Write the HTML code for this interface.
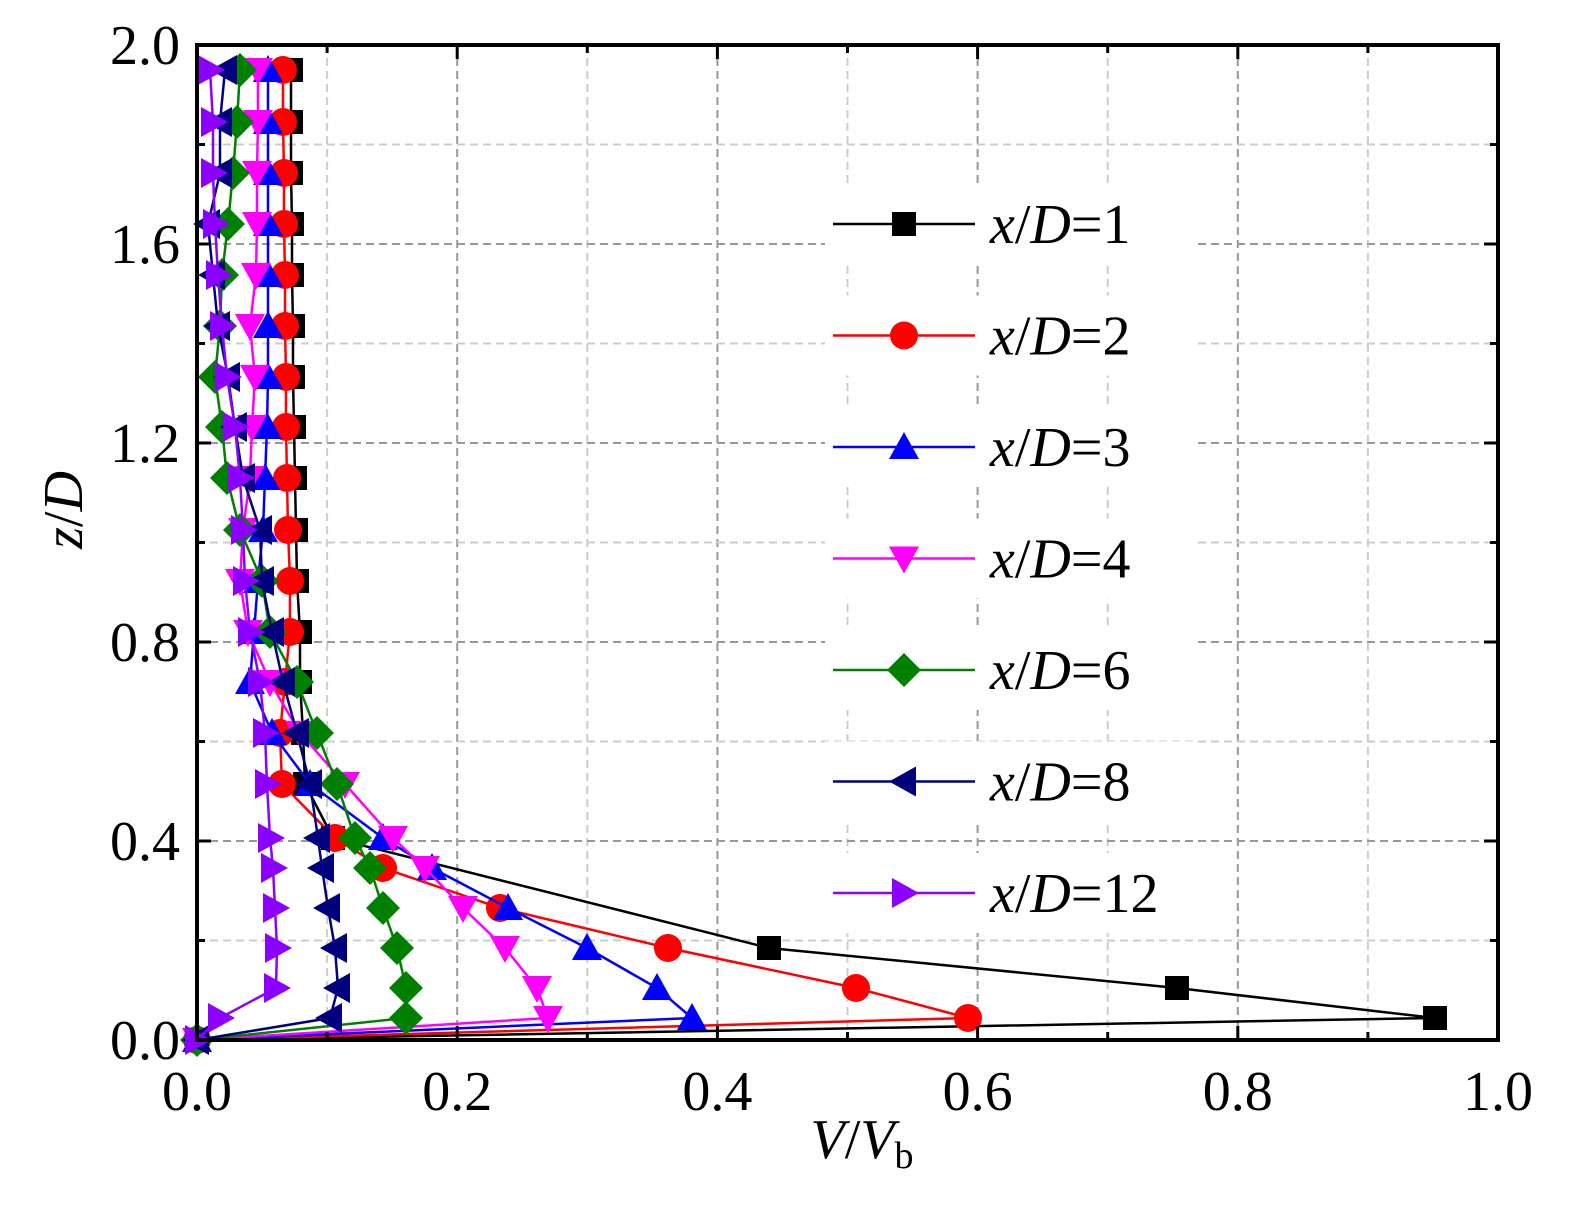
<!DOCTYPE html>
<html><head><meta charset="utf-8"><style>body{margin:0;background:#fff}svg{display:block}</style></head>
<body>
<svg id="s" width="1580" height="1208" xmlns="http://www.w3.org/2000/svg" font-family="Liberation Serif, serif"></svg>
<script>
const s=document.getElementById('s');let h='';
const X0=197,X1=1498,Y0=1040,Y1=45;
for(let i=1;i<10;i++){const x=X0+(X1-X0)*i/10;h+=`<line x1="${x}" y1="${Y1}" x2="${x}" y2="${Y0}" stroke="${i%2?'#ccc':'#999'}" stroke-width="2" stroke-dasharray="8,5"/>`;}
for(let i=1;i<10;i++){const y=Y0-(Y0-Y1)*i/10;h+=`<line x1="${X0}" y1="${y}" x2="${X1}" y2="${y}" stroke="${i%2?'#ccc':'#999'}" stroke-width="2" stroke-dasharray="8,5"/>`;}
const Z=[1018,988,948,908,868,838,784,733,682,632,581,530,478,427,377,326,275,224,173,122,70];
const S=[
['#000','sq',[1435,1177,769,null,null,333,305,303,300,300,297,296,295,294,293,293,292,292,291,291,291]],
['#f00','ci',[968,856,668,500,383,335,282,280,285,290,290,288,287,286,286,285,285,284,284,283,283]],
['#00f','tu',[692,657,587,508,432,383,310,272,250,254,258,263,265,267,268,268,268,268,268,268,268]],
['#f0f','td',[548,537,505,463,425,393,345,300,270,248,240,243,250,252,255,250,256,257,257,258,258]],
['#008000','di',[406,406,397,383,370,355,337,317,297,270,262,240,227,222,215,220,222,228,233,237,240]],
['#00007f','tl',[330,338,335,328,322,318,310,297,283,272,262,260,243,235,228,218,213,208,220,220,225]],
['#8b00ff','tr',[220,276,277,275,273,270,267,265,260,250,245,243,240,235,227,222,218,215,213,213,210]]];
function mk(t,x,y,c){const r=15;
 if(t=='sq')return `<rect x="${x-12}" y="${y-12}" width="24" height="24" fill="${c}"/>`;
 if(t=='ci')return `<circle cx="${x}" cy="${y}" r="14" fill="${c}"/>`;
 if(t=='tu')return `<polygon points="${x},${y-r} ${x-r},${y+r-3} ${x+r},${y+r-3}" fill="${c}"/>`;
 if(t=='td')return `<polygon points="${x},${y+r} ${x-r},${y-r+3} ${x+r},${y-r+3}" fill="${c}"/>`;
 if(t=='di')return `<polygon points="${x},${y-r-2} ${x+r+2},${y} ${x},${y+r+2} ${x-r-2},${y}" fill="${c}"/>`;
 if(t=='tl')return `<polygon points="${x-r},${y} ${x+r-3},${y-r} ${x+r-3},${y+r}" fill="${c}"/>`;
 if(t=='tr')return `<polygon points="${x+r},${y} ${x-r+3},${y-r} ${x-r+3},${y+r}" fill="${c}"/>`;}
for(const [c,t,xs] of S){let pts=[[197,1040]];xs.forEach((x,i)=>{if(x!=null)pts.push([x,Z[i]]);});
 h+=`<polyline points="${pts.map(p=>p.join(',')).join(' ')}" fill="none" stroke="${c}" stroke-width="2.5"/>`;
 pts.forEach(p=>h+=mk(t,p[0],p[1],c));}
h+=`<rect x="${X0}" y="${Y1}" width="${X1-X0}" height="${Y0-Y1}" fill="none" stroke="#000" stroke-width="4"/>`;
for(let i=0;i<=10;i++){const x=X0+(X1-X0)*i/10,l=i%2?8:14;h+=`<line x1="${x}" y1="${Y0}" x2="${x}" y2="${Y0-l}" stroke="#000" stroke-width="3"/><line x1="${x}" y1="${Y1}" x2="${x}" y2="${Y1+l}" stroke="#000" stroke-width="3"/>`;
 if(i%2==0)h+=`<text x="${x}" y="1110" font-size="56" text-anchor="middle">${(i/10).toFixed(1)}</text>`;}
for(let i=0;i<=10;i++){const y=Y0-(Y0-Y1)*i/10,l=i%2?8:14;h+=`<line x1="${X0}" y1="${y}" x2="${X0+l}" y2="${y}" stroke="#000" stroke-width="3"/><line x1="${X1}" y1="${y}" x2="${X1-l}" y2="${y}" stroke="#000" stroke-width="3"/>`;
 if(i%2==0)h+=`<text x="180" y="${y+19}" font-size="56" text-anchor="end">${(i/5).toFixed(1)}</text>`;}
h+=`<text x="862" y="1158" font-size="56" text-anchor="middle"><tspan font-style="italic">V</tspan>/<tspan font-style="italic">V</tspan><tspan font-size="38" dy="10">b</tspan></text>`;
h+=`<text transform="translate(82,510) rotate(-90)" font-size="56" text-anchor="middle"><tspan font-style="italic">z</tspan>/<tspan font-style="italic">D</tspan></text>`;
const L=['1','2','3','4','6','8','12'];
S.forEach(([c,t],i)=>{const y=224+i*111.5;h+=`<rect x="825" y="${y-40}" width="370" height="80" fill="#fff"/>`;});
S.forEach(([c,t],i)=>{const y=224+i*111.5;h+=`<line x1="833" y1="${y}" x2="975" y2="${y}" stroke="${c}" stroke-width="2.5"/>`+mk(t,904,y,c)+
 `<text x="990" y="${y+19}" font-size="56"><tspan font-style="italic">x</tspan>/<tspan font-style="italic">D</tspan>=${L[i]}</text>`;});
s.innerHTML=h;
</script>
</body></html>
